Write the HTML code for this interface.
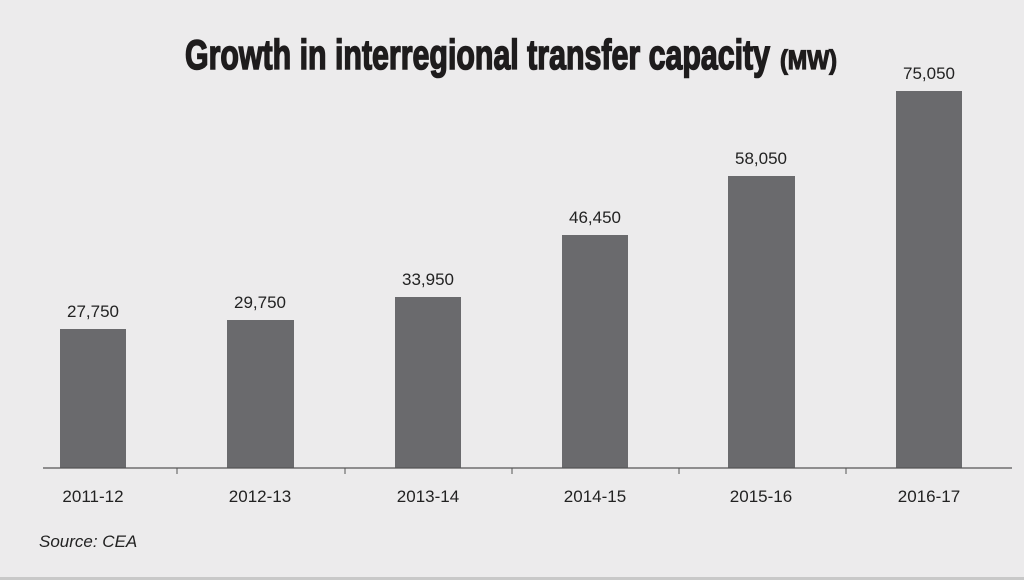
<!DOCTYPE html>
<html><head><style>
html,body{margin:0;padding:0;background:#ecebec;}
svg{display:block}
</style></head><body>
<svg width="1024" height="580" viewBox="0 0 1024 580" xmlns="http://www.w3.org/2000/svg">
<rect width="1024" height="580" fill="#ecebec"/>
<text x="185" y="69" font-family="Liberation Sans Narrow, Liberation Sans, sans-serif" font-weight="bold" font-size="42" fill="#1e1c1d" stroke="#1e1c1d" stroke-width="1.6" textLength="585" lengthAdjust="spacingAndGlyphs">Growth in interregional transfer capacity</text>
<text x="780" y="69" font-family="Liberation Sans Narrow, Liberation Sans, sans-serif" font-weight="bold" font-size="27" fill="#1e1c1d" stroke="#1e1c1d" stroke-width="1.2" textLength="57" lengthAdjust="spacingAndGlyphs">(MW)</text>
<g fill="#6a6a6d">
<rect x="60" y="329" width="66" height="139"/>
<rect x="227" y="320" width="67" height="148"/>
<rect x="395" y="297" width="66" height="171"/>
<rect x="562" y="235" width="66" height="233"/>
<rect x="728" y="176" width="67" height="292"/>
<rect x="896" y="91" width="66" height="377"/>
</g>
<line x1="43" y1="468" x2="1012" y2="468" stroke="#555" stroke-width="1.2"/>
<g stroke="#555" stroke-width="1">
<line x1="177" y1="468" x2="177" y2="474"/>
<line x1="345" y1="468" x2="345" y2="474"/>
<line x1="512" y1="468" x2="512" y2="474"/>
<line x1="679" y1="468" x2="679" y2="474"/>
<line x1="846" y1="468" x2="846" y2="474"/>
</g>
<g font-family="Liberation Sans, sans-serif" font-size="17" fill="#222" text-anchor="middle">
<text x="93" y="317">27,750</text>
<text x="260" y="308">29,750</text>
<text x="428" y="285">33,950</text>
<text x="595" y="223">46,450</text>
<text x="761" y="164">58,050</text>
<text x="929" y="79">75,050</text>
<text x="93" y="502">2011-12</text>
<text x="260" y="502">2012-13</text>
<text x="428" y="502">2013-14</text>
<text x="595" y="502">2014-15</text>
<text x="761" y="502">2015-16</text>
<text x="929" y="502">2016-17</text>
</g>
<text x="39" y="547" font-family="Liberation Sans, sans-serif" font-style="italic" font-size="17" fill="#222">Source: CEA</text>
<rect x="0" y="577" width="1024" height="3" fill="#c8c8c8"/>
</svg>
</body></html>
